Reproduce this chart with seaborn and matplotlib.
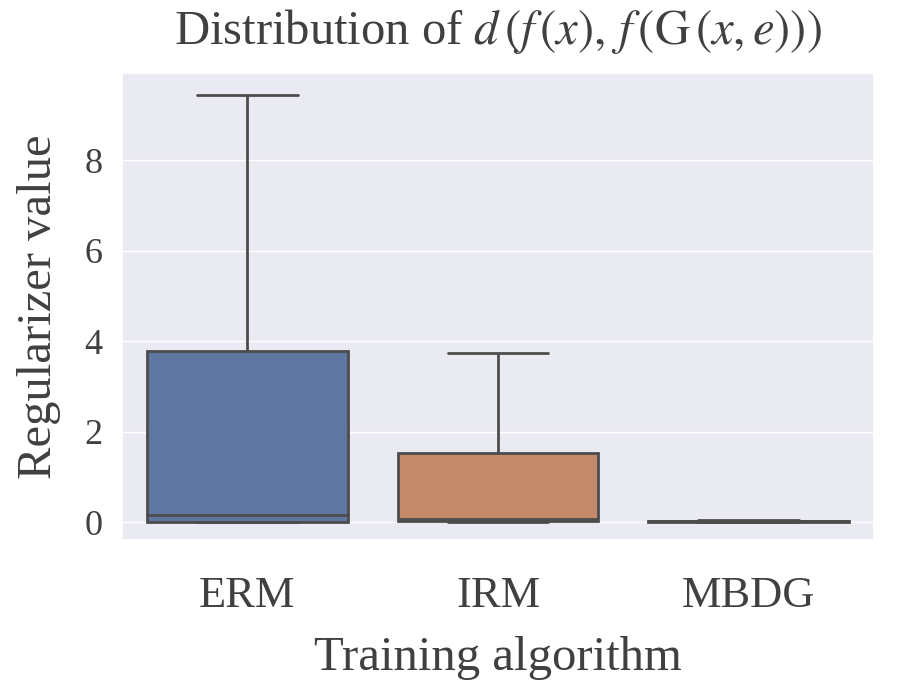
import pandas as pd
import seaborn as sns
import matplotlib.pyplot as plt

# regularizer values per training algorithm
algorithms = ['ERM', 'IRM', 'MBDG']
erm_values = [0.0, 0.0, 0.15, 3.78, 9.43]
irm_values = [0.0, 0.03, 0.07, 1.52, 3.73]
mbdg_values = [0.0, 0.01, 0.02, 0.03, 0.04]
y_ticks = [0, 2, 4, 6, 8]
box_colors = ['#5E76A0', '#C48A6A', '#6A9C72']

df = pd.DataFrame({
    'algorithm': ['ERM'] * len(erm_values) + ['IRM'] * len(irm_values) + ['MBDG'] * len(mbdg_values),
    'value': erm_values + irm_values + mbdg_values,
})

sns.set_theme(style='darkgrid')
plt.rcParams['font.family'] = ['Liberation Serif', 'DejaVu Serif']
plt.rcParams['mathtext.fontset'] = 'stix'
text_color = '#404040'

fig = plt.figure(figsize=(8.98, 6.9), dpi=100)
ax = fig.add_axes([0.136, 0.217, 0.837, 0.677])

sns.boxplot(data=df, x='algorithm', y='value', hue='algorithm', order=algorithms,
            palette=box_colors, saturation=1, showfliers=False, linewidth=2,
            ax=ax, legend=False)

ax.set_ylim(-0.4, 9.92)
ax.set_yticks(y_ticks)
ax.tick_params(axis='y', labelsize=26, pad=8, colors=text_color)
ax.tick_params(axis='x', labelsize=32, pad=20, colors=text_color)
ax.set_xlabel('Training algorithm', fontsize=35, color=text_color, labelpad=14)
ax.set_ylabel('Regularizer value', fontsize=35, color=text_color, labelpad=17)
ax.set_title(r'Distribution of $d\,\left(f\,(x),\, f\,\left(\mathrm{G}\,(x,e)\right)\right)$',
             fontsize=35, color=text_color, pad=21)

fig.savefig('out.png', dpi=100)
